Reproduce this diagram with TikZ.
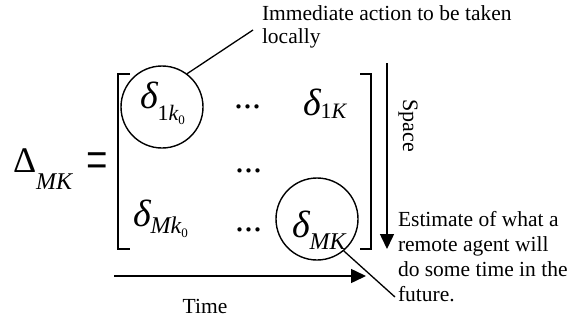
\documentclass[tikz,border=0pt]{standalone}
\usepackage{fontspec}
\usepackage{graphicx}
\setmainfont{Liberation Serif}
\usetikzlibrary{arrows.meta}
\newcommand{\fsz}[1]{\fontsize{#1}{#1}\selectfont}
\begin{document}
\begin{tikzpicture}[x=1pt,y=-1pt,
  txt/.style={inner sep=0pt, outer sep=0pt, anchor=base west},
  note/.style={txt, align=left},
  ring/.style={draw, circle, line width=1.4pt, minimum size=82pt, inner sep=0pt},
  brk/.style={line width=1.5pt},
  lead/.style={line width=1.3pt},
  axis/.style={line width=1.5pt, -{Triangle[length=15pt,width=14pt]}}]
\useasboundingbox (0,0) rectangle (567,322);
% left side
\node[txt] (D) at (13,172) {\fsz{36}Δ\raisebox{-17pt}{\fsz{24}\itshape MK}};
\node[txt] (eq) at (86,180) {\fsz{38}\scalebox{1}[1.6]{=}};
% brackets
\draw[brk] (130,74) -- (118,74) -- (118,249) -- (130,249);
\draw[brk] (360,74) -- (371,74) -- (371,249) -- (360,249);
% entries
\node[txt] (e11) at (140,108) {\fsz{38}\itshape δ\raisebox{-12pt}{\fsz{22}\upshape 1\itshape k\raisebox{-4pt}{\fsz{13}\upshape 0}}};
\node[txt] (e12) at (303,115) {\fsz{38}\itshape δ\raisebox{-3pt}{\fsz{22}\upshape 1\itshape K}};
\node[txt] (e31) at (133,226) {\fsz{38}\itshape δ\raisebox{-7pt}{\fsz{24}Mk\raisebox{-4pt}{\fsz{13}\upshape 0}}};
\node[txt] (e32) at (292,237) {\fsz{38}\itshape δ\raisebox{-12pt}{\fsz{24}MK}};
\node[txt] (dots1) at (234,108) {\fsz{36}...};
\node[txt] (dots2) at (235,172) {\fsz{36}...};
\node[txt] (dots3) at (235,231) {\fsz{36}...};
% circles
\node[ring] (c1) at (162,107) {};
\node[ring] (c2) at (317,219) {};
% annotations
\node[note, font=\fontsize{21.5}{23}\selectfont] (n1) at (262,43) {Immediate action to be taken\\locally};
\node[note, font=\fontsize{21.5}{24.7}\selectfont] (n2) at (398,301) {Estimate of what a\\remote agent will\\do some time in the\\future.};
\coordinate (p1) at (253,30);
\coordinate (p2) at (395,297);
\draw[lead] (c1.53) -- (p1);
\draw[lead] (c2.-50) -- (p2);
% axes
\coordinate (t0) at (114,276);
\coordinate (t1) at (366,276);
\draw[axis] (t0) -- (t1);
\coordinate (s0) at (387,63);
\coordinate (s1) at (387,249);
\draw[axis] (s0) -- (s1);
\node[txt, anchor=base] (time) at (205,313) {\fsz{21.5}Time};
\node[inner sep=0pt, rotate=-90, font=\fsz{22}] (space) at (408,126) {Space};
\end{tikzpicture}
\end{document}
